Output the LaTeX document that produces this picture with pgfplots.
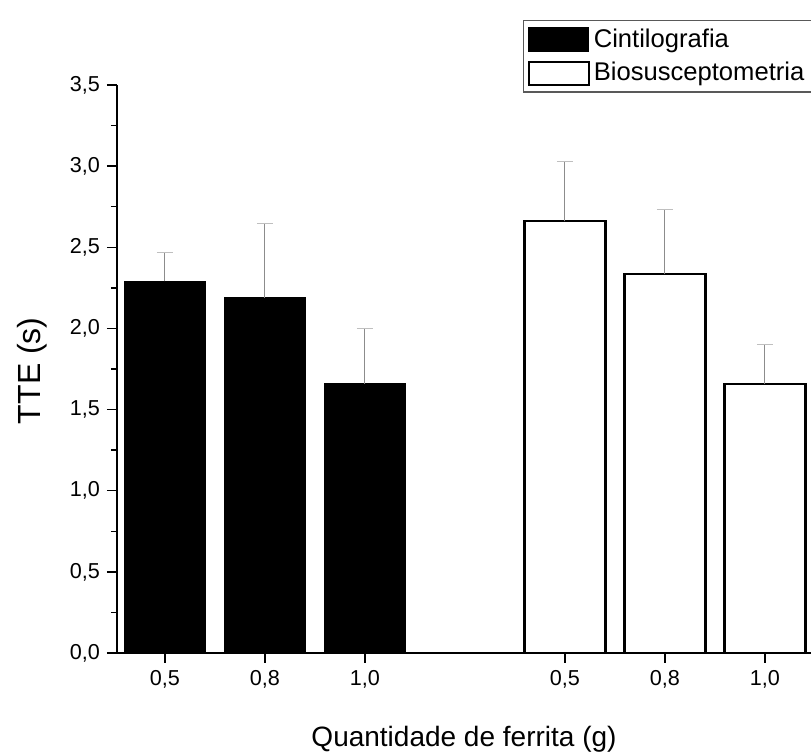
\documentclass[border=0pt]{standalone}
\usepackage{fontspec}
\setmainfont{Liberation Sans}
\usepackage{pgfplots}
\pgfplotsset{compat=1.18}
\pgfplotsset{boxlegend/.style={legend image code/.code={\draw[##1] (0pt,-5.75pt) rectangle (30pt,5.75pt);}}}
\pgfplotstableread{
x y ey
0 2.29 0.18
1 2.19 0.46
2 1.66 0.34
}\cinti
\pgfplotstableread{
x y ey
4 2.66 0.37
5 2.335 0.40
6 1.66 0.24
}\bio
\begin{document}
\begin{tikzpicture}
\path[use as bounding box] (-58.5pt,-51.5pt) rectangle (347pt,326.5pt);
\begin{axis}[
  at={(0,0)}, anchor=south west,
  scale only axis, width=347pt, height=284pt,
  xmin=-0.48, xmax=6.46, ymin=0, ymax=3.5,
  axis x line*=bottom, axis y line*=left,
  axis line style={line width=0.7pt},
  tick style={line width=0.7pt, black},
  tick align=outside,
  major tick length=5pt, minor tick length=3pt,
  xtick={0,1,2,4,5,6},
  xticklabels={{0,5},{0,8},{1,0},{0,5},{0,8},{1,0}},
  ytick={0,0.5,...,3.5},
  minor y tick num=1,
  /pgf/number format/.cd, use comma, fixed, fixed zerofill, precision=1, assume math mode=true,
  /pgfplots/.cd,
  ticklabel style={font=\fontsize{10.8}{12}\selectfont},
  xlabel={Quantidade de ferrita (g)},
  ylabel={TTE (s)},
  xlabel style={font=\fontsize{14}{16}\selectfont, at={(axis description cs:0.5,-0.151)}, anchor=center},
  ylabel style={font=\fontsize{16}{18}\selectfont, at={(axis description cs:-0.122,0.497)}, anchor=center},
  legend style={at={(axis description cs:0.585,1.114)}, anchor=north west,
    draw=black!65, line width=0.6pt, font=\fontsize{12.8}{14}\selectfont,
    inner xsep=2pt, inner ysep=2pt, row sep=2pt},
  legend cell align=left,
]
\addplot[ybar, bar width=0.81, bar shift=0pt, draw=black, fill=black, line width=0.8pt,
  boxlegend,
  error bars/.cd, y dir=plus, y explicit,
  error bar style={line width=0.5pt, black!45},
  error mark options={rotate=90, mark size=4pt, black!25}]
  table[x=x, y=y, y error=ey]{\cinti};
\addlegendentry{Cintilografia}
\addplot[ybar, bar width=0.81, bar shift=0pt, draw=black, fill=white, line width=1.1pt,
  boxlegend,
  error bars/.cd, y dir=plus, y explicit,
  error bar style={line width=0.5pt, black!45},
  error mark options={rotate=90, mark size=4pt, black!25}]
  table[x=x, y=y, y error=ey]{\bio};
\addlegendentry{Biosusceptometria}
\end{axis}
\end{tikzpicture}
\end{document}
